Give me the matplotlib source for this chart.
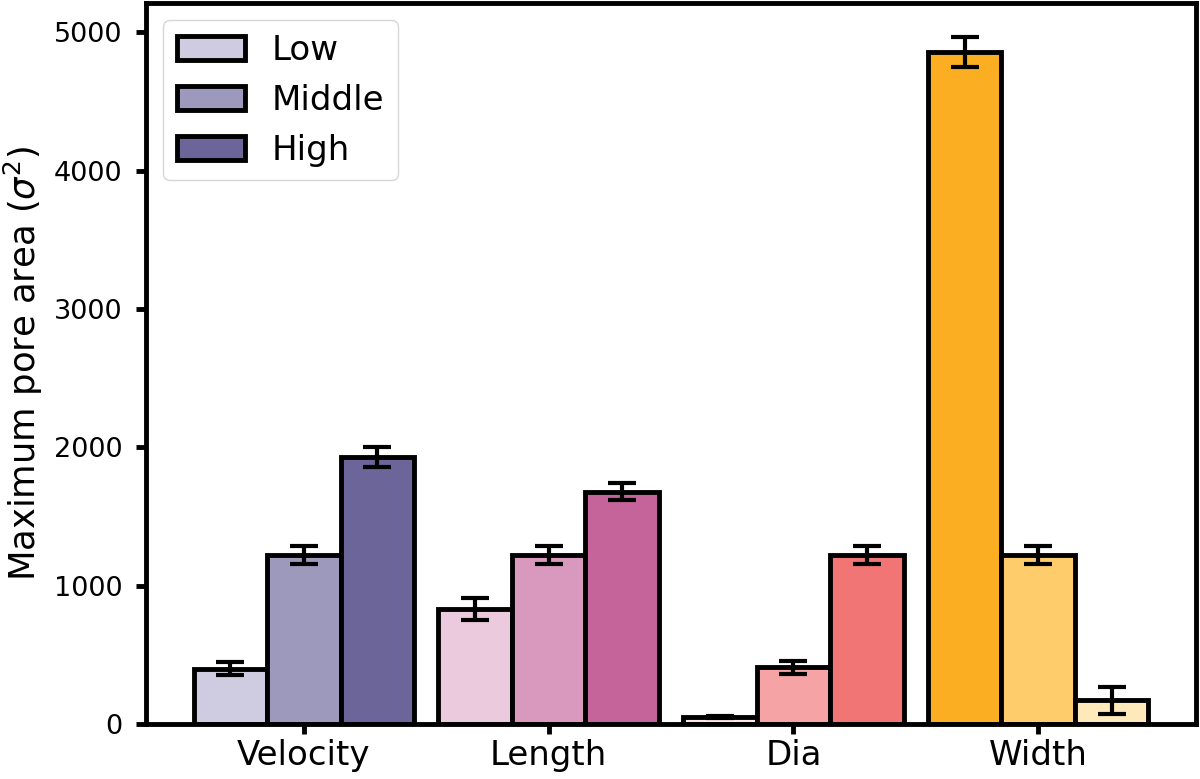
import numpy as np
import matplotlib
matplotlib.use("Agg")
from matplotlib import pyplot as plt

# groups on the x axis and the three levels in each group
categories = ["Velocity", "Length", "Dia", "Width"]
levels = ["Low", "Middle", "High"]

low_vals = [400, 830, 50, 4855]
middle_vals = [1220, 1220, 410, 1220]
high_vals = [1930, 1680, 1220, 170]

low_err = [45, 78, 10, 108]
middle_err = [65, 65, 48, 65]
high_err = [70, 60, 65, 98]

# one colour per bar, per level
low_colors = ["#cfcce1", "#ebcade", "#fde9e4", "#fbae22"]
middle_colors = ["#9d99bd", "#d998bd", "#f5a3a4", "#fecc6b"]
high_colors = ["#6b6599", "#c5649a", "#f27576", "#ffe8b9"]

values = [low_vals, middle_vals, high_vals]
errors = [low_err, middle_err, high_err]
colors = [low_colors, middle_colors, high_colors]

fig = plt.figure(figsize=(12, 7.79), dpi=100)
ax = fig.add_axes([146 / 1200, 55 / 779, (1196 - 146) / 1200, (724 - 3) / 779])

x = np.arange(len(categories))
width = 0.3
for i in range(3):
    ax.bar(x + (i - 1) * width, values[i], width, yerr=errors[i],
           color=colors[i], edgecolor="black", linewidth=3.5,
           label=levels[i],
           error_kw=dict(ecolor="black", elinewidth=3, capsize=10, capthick=3))

ax.set_xticks(x)
ax.set_xticklabels(categories, fontsize=24.5)
ax.tick_params(axis="y", labelsize=19.5, pad=10)
ax.tick_params(axis="both", width=3.5, length=7)
ax.set_ylabel(r"Maximum pore area ($\sigma^2$)", fontsize=25.5, labelpad=6)
for spine in ax.spines.values():
    spine.set_linewidth(3.5)

ax.legend(loc="upper left", fontsize=24.5)
fig.savefig("out.png", dpi=100)
